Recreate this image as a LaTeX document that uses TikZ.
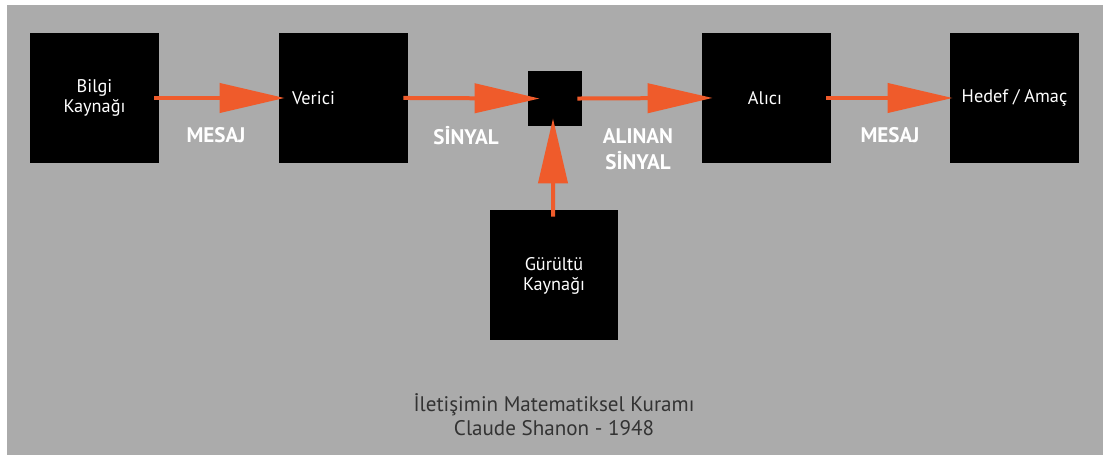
\documentclass[tikz,border=0pt]{standalone}
\usepackage{fontspec}
\setmainfont{PT Sans}
\usetikzlibrary{arrows.meta}
\definecolor{bggray}{HTML}{ABABAB}
\definecolor{sigorange}{HTML}{EF5B2B}
\definecolor{captiongray}{HTML}{333333}

\begin{document}
\begin{tikzpicture}[x=0.02cm,y=-0.02cm,
  blackbox/.style={fill=black,minimum width=2.58cm,minimum height=2.6cm,inner sep=0pt},
  boxtext/.style={text=white,font=\fontsize{10.4}{11.5}\selectfont,align=center},
  sig/.style={draw=sigorange,line width=0.08cm,shorten <=-0.1cm,
    -{Triangle[length=1.3cm,width=0.58cm]}},
  siglabel/.style={text=white,font=\fontsize{12}{14.7}\selectfont\bfseries,align=center}]
\useasboundingbox (0,0) rectangle (1103,455);
\fill[white] (0,0) rectangle (1103,455);
\fill[bggray] (7,5) rectangle (1103,455);
% kutular
\node[blackbox] (kaynak) at (94.5,98) {};
\node[blackbox] (verici) at (343.5,98) {};
\node[fill=black,minimum width=1.08cm,minimum height=1.1cm,inner sep=0pt] (kanal) at (555,98.5) {};
\node[blackbox] (alici) at (766.5,98) {};
\node[blackbox] (hedef) at (1014.5,98) {};
\node[blackbox] (gurultu) at (554,275) {};
% kutu yazilari
\node[boxtext] at (94.5,98) {Bilgi\\Kaynağı};
\node[boxtext] at (313.5,98) {Verici};
\node[boxtext] at (765,98) {Alıcı};
\node[boxtext] at (1014.5,98) {Hedef / Amaç};
\node[boxtext] at (554,276) {Gürültü\\Kaynağı};
% oklar
\draw[sig,shorten >=-0.12cm] (kaynak.east) -- (verici.west);
\draw[sig,shorten >=-0.24cm] (verici.east) -- (kanal.west);
\draw[sig,shorten >=-0.22cm] (kanal.east) -- (alici.west);
\draw[sig,shorten >=-0.06cm] (alici.east) -- (hedef.west);
\draw[sig,shorten <=-0.14cm,shorten >=-0.16cm] ([xshift=-0.02cm]gurultu.north) -- ([xshift=-0.04cm]kanal.south);
% ok yazilari
\node[siglabel] at (216,135) {MESAJ};
\node[siglabel] at (466,136) {SİNYAL};
\node[siglabel] at (638,149) {ALINAN\\SİNYAL};
\node[siglabel] at (890,135) {MESAJ};
% alt yazi
\node[text=captiongray,font=\fontsize{12}{13.6}\selectfont,align=center] at (554,415) {İletişimin Matematiksel Kuramı\\Claude Shanon - 1948};
\end{tikzpicture}
\end{document}
